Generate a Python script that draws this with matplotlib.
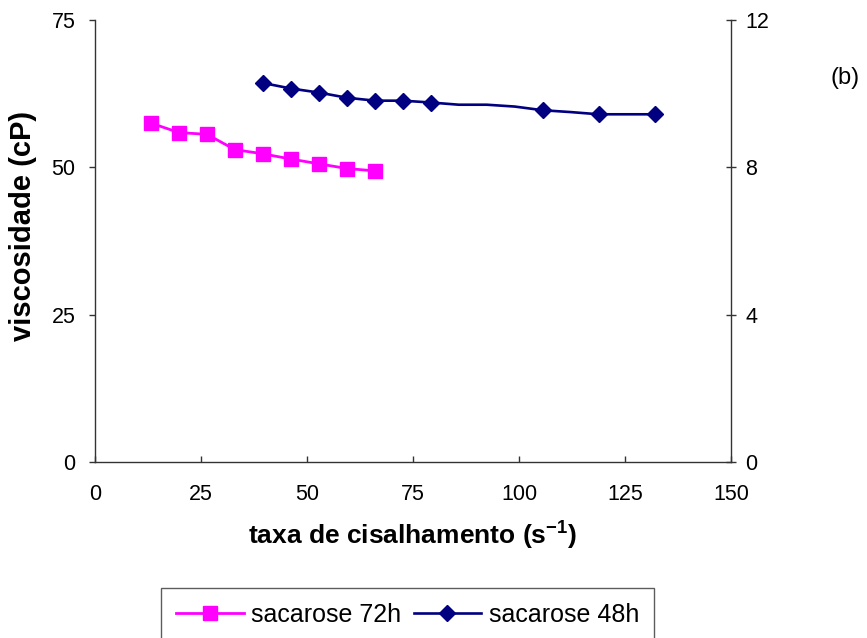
import matplotlib
matplotlib.use("Agg")
import matplotlib.pyplot as plt
from matplotlib.lines import Line2D

plt.rcParams['font.family'] = ['Liberation Sans', 'DejaVu Sans']

# Data
x_72h = [13.2, 19.8, 26.4, 33.0, 39.6, 46.2, 52.8, 59.4, 66.0]
visc_72h = [57.5, 55.9, 55.6, 53.0, 52.3, 51.4, 50.6, 49.8, 49.4]   # left axis (cP)

x_48h = [39.6, 46.2, 52.8, 59.4, 66.0, 72.6, 79.2, 85.8, 92.4, 99.0, 105.6, 112.2, 118.8, 125.4, 132.0]
visc_48h = [10.29, 10.14, 10.03, 9.89, 9.81, 9.81, 9.76, 9.70, 9.70, 9.65, 9.55, 9.50, 9.44, 9.44, 9.44]  # right axis
marked_48h = [1, 1, 1, 1, 1, 1, 1, 0, 0, 0, 1, 0, 1, 0, 1]

label_72h = "sacarose 72h"
label_48h = "sacarose 48h"

xticks = [0, 25, 50, 75, 100, 125, 150]
yticks_left = [0, 25, 50, 75]
yticks_right = [0, 4, 8, 12]

c72 = "#FF00FF"
c48 = "#000080"

fig = plt.figure(figsize=(8.67, 6.38), dpi=100)
W, H = 867, 638
ax = fig.add_axes([95 / W, 1 - 462 / H, (731 - 95) / W, (462 - 20) / H])
ax2 = ax.twinx()

ax.plot(x_72h, visc_72h, color=c72, lw=2, marker='s', markersize=9.5,
        markerfacecolor=c72, markeredgecolor=c72, zorder=3)

ax2.plot(x_48h, visc_48h, color=c48, lw=1.9, zorder=3)
xm = [x for x, m in zip(x_48h, marked_48h) if m]
ym = [y for y, m in zip(visc_48h, marked_48h) if m]
ax2.plot(xm, ym, ls='none', marker='D', markersize=8.3, color=c48,
         markerfacecolor=c48, markeredgecolor=c48, zorder=4)

ax.set_xlim(0, 150)
ax.set_ylim(0, 75)
ax2.set_ylim(0, 12)
ax.set_xticks(xticks)
ax.set_yticks(yticks_left)
ax2.set_yticks(yticks_right)

for a in (ax, ax2):
    a.spines['top'].set_visible(False)
    for s in a.spines.values():
        s.set_linewidth(1.0)
        s.set_color('#333333')
ax.spines['right'].set_visible(False)
ax2.spines['left'].set_visible(False)
ax2.spines['bottom'].set_visible(False)

ax.tick_params(axis='y', direction='out', length=4, width=1, color='#333333',
               labelsize=15.5, pad=10)
ax.tick_params(axis='x', direction='in', length=4, width=1, color='#333333',
               labelsize=15.5, pad=16)
ax2.tick_params(axis='y', direction='inout', length=7, width=1, color='#333333',
                labelsize=15.5, pad=7)

ax.set_xlabel("taxa de cisalhamento (s$^{\\mathregular{-1}}$)", fontsize=19,
              fontweight='bold', labelpad=9)
ax.set_ylabel("viscosidade (cP)", fontsize=21, fontweight='bold')
ax.yaxis.set_label_coords(-0.091, 0.534)

fig.text(845 / W, 1 - 78 / H, "(b)", fontsize=17, ha='center', va='center')

handles = [
    Line2D([], [], color=c72, lw=2, marker='s', markersize=9.5),
    Line2D([], [], color=c48, lw=1.9, marker='D', markersize=8.3),
]
leg = fig.legend(handles, [label_72h, label_48h], loc='upper left',
                 bbox_to_anchor=(161 / W, 1 - 588 / H), ncol=2, fontsize=18,
                 frameon=True, fancybox=False, handlelength=2.7,
                 handletextpad=0.3, columnspacing=0.5, borderpad=0.6,
                 borderaxespad=0)
leg.get_frame().set_edgecolor('#333333')
leg.get_frame().set_linewidth(1.0)

fig.savefig("out.png", dpi=100)
